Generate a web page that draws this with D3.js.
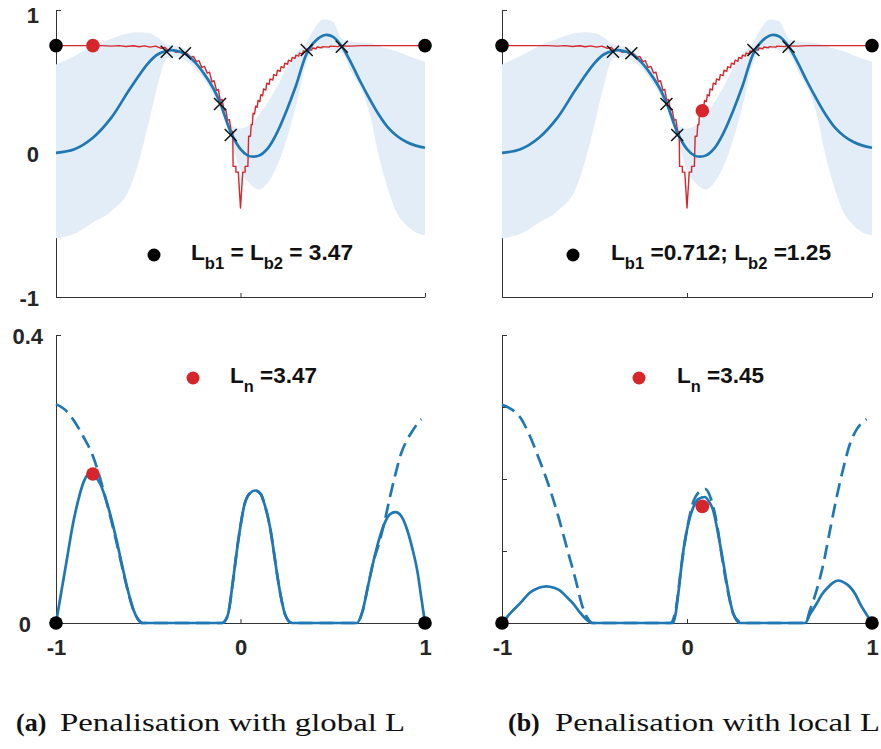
<!DOCTYPE html>
<html><head><meta charset="utf-8">
<script src="https://cdn.jsdelivr.net/npm/d3@7"></script>
<style>
html,body{margin:0;padding:0;background:#fff;}
svg{display:block;}
.tick text{font-family:"Liberation Sans",Arial,sans-serif;font-weight:bold;font-size:22px;fill:#262626;}
</style></head>
<body>
<svg id="c" width="881" height="749"></svg>
<script>
// ---------------- DATA ----------------
// GP posterior mean (top panels)
const meanX = [-1,-0.9,-0.8,-0.7,-0.6,-0.5,-0.45,-0.4,-0.37,-0.33,-0.3,-0.25,-0.2,-0.15,-0.11,-0.05,0,0.04,0.07,0.1,0.15,0.2,0.25,0.3,0.36,0.41,0.46,0.5,0.55,0.6,0.65,0.7,0.75,0.8,0.85,0.9,0.95,1];
const meanY = [0.005,0.03,0.11,0.25,0.45,0.63,0.69,0.715,0.72,0.71,0.695,0.64,0.56,0.46,0.35,0.14,0.03,-0.015,-0.022,-0.015,0.04,0.15,0.3,0.47,0.70,0.79,0.826,0.815,0.745,0.63,0.5,0.38,0.27,0.18,0.12,0.08,0.055,0.04];
// GP confidence band
const bandX = [-1,-0.9,-0.8,-0.7,-0.6,-0.55,-0.5,-0.45,-0.4,-0.35,-0.3,-0.25,-0.2,-0.15,-0.1,-0.05,0,0.05,0.1,0.15,0.2,0.25,0.3,0.35,0.4,0.45,0.5,0.55,0.6,0.65,0.7,0.75,0.8,0.85,0.9,0.95,1];
const bandUpper = [0.62,0.68,0.75,0.80,0.84,0.845,0.84,0.81,0.76,0.75,0.73,0.67,0.6,0.5,0.38,0.2,0.175,0.2,0.27,0.36,0.47,0.6,0.7,0.76,0.87,0.935,0.92,0.8,0.78,0.775,0.77,0.75,0.73,0.71,0.685,0.66,0.64];
const bandLower = [-0.59,-0.56,-0.48,-0.40,-0.24,-0.05,0.2,0.47,0.66,0.67,0.65,0.6,0.52,0.42,0.3,0.09,-0.12,-0.21,-0.25,-0.2,-0.08,0.1,0.33,0.6,0.72,0.73,0.72,0.7,0.57,0.46,0.28,-0.02,-0.25,-0.42,-0.5,-0.55,-0.57];
// true objective (red)
const trueFn = [[-1,0.752],[-0.75,0.752],[-0.7,0.748],[-0.66,0.752],[-0.62,0.746],[-0.58,0.751],[-0.55,0.744],[-0.52,0.75],[-0.49,0.741],[-0.46,0.748],[-0.43,0.733],[-0.41,0.74],[-0.39,0.715],[-0.37,0.722],[-0.35,0.705],[-0.33,0.712],[-0.31,0.69],[-0.29,0.697],[-0.27,0.67],[-0.255,0.677],[-0.24,0.64],[-0.225,0.647],[-0.21,0.6],[-0.195,0.607],[-0.18,0.56],[-0.168,0.567],[-0.155,0.5],[-0.143,0.507],[-0.13,0.44],[-0.12,0.447],[-0.11,0.37],[-0.1,0.377],[-0.09,0.3],[-0.08,0.307],[-0.07,0.23],[-0.06,0.237],[-0.05,0.15],[-0.042,0.155],[-0.04,-0.09],[-0.025,-0.09],[-0.025,-0.13],[-0.012,-0.13],[0,-0.38],[0.012,-0.13],[0.025,-0.13],[0.025,-0.09],[0.04,-0.09],[0.044,0.12],[0.054,0.12],[0.058,0.2],[0.064,0.2],[0.068,0.28],[0.076,0.275],[0.082,0.33],[0.09,0.322],[0.095,0.37],[0.105,0.362],[0.11,0.41],[0.12,0.402],[0.125,0.45],[0.137,0.442],[0.142,0.49],[0.155,0.482],[0.16,0.52],[0.175,0.512],[0.18,0.55],[0.195,0.542],[0.2,0.58],[0.215,0.572],[0.22,0.605],[0.235,0.597],[0.24,0.63],[0.255,0.622],[0.26,0.65],[0.275,0.642],[0.28,0.67],[0.295,0.662],[0.3,0.685],[0.315,0.679],[0.32,0.7],[0.335,0.694],[0.34,0.715],[0.36,0.709],[0.365,0.725],[0.385,0.72],[0.39,0.735],[0.41,0.73],[0.415,0.742],[0.44,0.737],[0.445,0.745],[0.48,0.741],[0.485,0.748],[0.53,0.745],[0.535,0.75],[0.6,0.748],[0.65,0.752],[1,0.752]];
// observations (crosses)
const obsX = [-0.400,-0.301,-0.111,-0.053,0.359,0.549];
const obsY = [0.709,0.698,0.345,0.129,0.721,0.744];
// boundary points and next evaluation
const boundX = [-1,1];
const boundTopY = 0.752;
const nextTopA = [-0.80,0.752];
const nextTopB = [0.083,0.298];
// penalised acquisition, global L (bottom-left)
const acqA = [[-1,0],[-0.97,0.045],[-0.94,0.09],[-0.91,0.135],[-0.88,0.17],[-0.85,0.196],[-0.82,0.207],[-0.79,0.204],[-0.76,0.193],[-0.73,0.172],[-0.70,0.145],[-0.67,0.113],[-0.64,0.078],[-0.61,0.045],[-0.58,0.018],[-0.555,0.005],[-0.53,0],[-0.1,0],[-0.07,0.01],[-0.04,0.06],[-0.02,0.1],[0,0.135],[0.02,0.163],[0.05,0.18],[0.08,0.184],[0.11,0.179],[0.13,0.165],[0.16,0.133],[0.18,0.1],[0.2,0.065],[0.22,0.035],[0.24,0.013],[0.26,0.003],[0.28,0],[0.63,0],[0.66,0.015],[0.69,0.05],[0.72,0.085],[0.75,0.115],[0.78,0.138],[0.81,0.151],[0.84,0.154],[0.87,0.149],[0.9,0.132],[0.93,0.105],[0.96,0.07],[0.98,0.035],[1,0]];
const acqADash = [[-1,0.304],[-0.95,0.296],[-0.9,0.28],[-0.85,0.258],[-0.8,0.232],[-0.76,0.2],[-0.73,0.172],[-0.70,0.142],[-0.67,0.11],[-0.64,0.076],[-0.61,0.044],[-0.58,0.018],[-0.555,0.005],[-0.53,0],[-0.1,0],[-0.07,0.01],[-0.04,0.06],[-0.02,0.1],[0,0.135],[0.02,0.163],[0.05,0.18],[0.08,0.184],[0.11,0.179],[0.13,0.165],[0.16,0.133],[0.18,0.1],[0.2,0.065],[0.22,0.035],[0.24,0.013],[0.26,0.003],[0.28,0],[0.63,0],[0.66,0.015],[0.69,0.05],[0.72,0.085],[0.75,0.11],[0.78,0.14],[0.81,0.175],[0.84,0.207],[0.87,0.235],[0.9,0.253],[0.93,0.266],[0.96,0.277],[0.98,0.283]];
// penalised acquisition, local L (bottom-right)
const acqB = [[-1,0],[-0.95,0.015],[-0.9,0.028],[-0.85,0.042],[-0.8,0.049],[-0.76,0.051],[-0.72,0.049],[-0.686,0.045],[-0.65,0.036],[-0.615,0.027],[-0.58,0.015],[-0.56,0.009],[-0.535,0.003],[-0.515,0],[-0.075,0],[-0.06,0.015],[-0.047,0.041],[-0.02,0.1],[0.016,0.147],[0.04,0.164],[0.061,0.172],[0.097,0.175],[0.12,0.168],[0.142,0.156],[0.16,0.135],[0.178,0.11],[0.2,0.078],[0.215,0.055],[0.235,0.028],[0.25,0.013],[0.27,0.003],[0.286,0],[0.638,0],[0.665,0.012],[0.701,0.027],[0.73,0.04],[0.764,0.05],[0.79,0.056],[0.818,0.059],[0.85,0.056],[0.881,0.05],[0.91,0.04],[0.935,0.027],[0.97,0.012],[1,0]];
const acqBDash = [[-1,0.303],[-0.95,0.297],[-0.9,0.285],[-0.85,0.26],[-0.8,0.228],[-0.75,0.193],[-0.7,0.152],[-0.65,0.105],[-0.6,0.058],[-0.57,0.027],[-0.54,0.008],[-0.51,0],[-0.09,0],[-0.06,0.02],[-0.03,0.08],[0,0.13],[0.03,0.165],[0.07,0.183],[0.1,0.186],[0.13,0.172],[0.16,0.14],[0.19,0.09],[0.22,0.045],[0.25,0.013],[0.28,0.002],[0.3,0],[0.64,0],[0.665,0.018],[0.7,0.045],[0.737,0.082],[0.77,0.125],[0.809,0.175],[0.845,0.215],[0.881,0.249],[0.92,0.27],[0.971,0.283]];
const nextBotA = [-0.80,0.207];
const nextBotB = [0.083,0.162];
// tick values and labels
const topYTicks = [-1,0,1];
const botYTicks = [0,0.1,0.2,0.3,0.4];
const botYLabels = {0:"0",0.4:"0.4"};
const xTicks = [-1,0,1];
const legendText = {
  topA: [["L",""],["b1","sub"],[" = L",""],["b2","sub"],[" = 3.47",""]],
  topB: [["L",""],["b1","sub"],[" =0.712; L",""],["b2","sub"],[" =1.25",""]],
  botA: [["L",""],["n","sub"],[" =3.47",""]],
  botB: [["L",""],["n","sub"],[" =3.45",""]]
};
const captions = [["(a)","Penalisation with global L"],["(b)","Penalisation with local L"]];

// ---------------- STYLE ----------------
const BLUE = "#1f77b4", RED = "#d7262b", BAND = "#e3edf7", AX = "#333";
const svg = d3.select("#c");

function axisStyle(g){
  g.select(".domain").attr("stroke",AX).attr("stroke-width",1);
  g.selectAll(".tick line").attr("stroke",AX).attr("stroke-width",1);
}

function panel(opt){
  const x = d3.scaleLinear().domain([-1,1]).range(opt.xr);
  const y = d3.scaleLinear().domain(opt.yd).range(opt.yr);
  const g = svg.append("g");
  const ya = d3.axisLeft(y).tickValues(opt.yTicks).tickSizeInner(-5).tickSizeOuter(0).tickPadding(opt.yPad)
    .tickFormat(opt.yFmt);
  const gy = g.append("g").attr("transform",`translate(${opt.xr[0]},0)`).call(ya);
  axisStyle(gy);
  const xa = d3.axisBottom(x).tickValues(xTicks).tickSizeInner(-4).tickSizeOuter(0).tickPadding(16)
    .tickFormat(opt.xFmt);
  const gx = g.append("g").attr("transform",`translate(0,${opt.yr[0]})`).call(xa);
  axisStyle(gx);
  return {x,y,g,gy,gx};
}

function legend(g, cx, cy, color, tx, parts, len){
  g.append("circle").attr("cx",cx).attr("cy",cy).attr("r",6.5).attr("fill",color);
  const t = g.append("text").attr("x",tx).attr("y",cy+5)
    .attr("font-family","'Liberation Sans',Arial,sans-serif").attr("font-weight","bold")
    .attr("font-size",22).attr("fill","#111");
  parts.forEach((p,i)=>{
    const s = t.append("tspan").text(p[0]);
    if(p[1]==="sub"){ s.attr("font-size",16).attr("dy",9); }
    else if(i>0 && parts[i-1][1]==="sub"){ s.attr("dy",-9); }
  });
  if(len) t.attr("textLength",len).attr("lengthAdjust","spacingAndGlyphs");
}

function topPanel(xr, labels, nextPt, legendCfg){
  const P = panel({xr, yr:[297,10], yd:[-1,1], yTicks:topYTicks, yPad:17,
    yFmt: labels ? (d=>d3.format("d")(d).replace("−","-")) : (()=>""), xFmt: ()=>""});
  const {x,y,g,gy} = P;
  gy.selectAll(".tick text").attr("dy", d=> d===1 ? "0.55em" : "0.38em");
  g.append("path").datum(bandX.map((v,i)=>[v,bandUpper[i],bandLower[i]]))
    .attr("fill",BAND)
    .attr("d", d3.area().x(d=>x(d[0])).y0(d=>y(d[2])).y1(d=>y(d[1])).curve(d3.curveMonotoneX));
  g.append("path").datum(trueFn).attr("fill","none").attr("stroke",RED).attr("stroke-width",1.4)
    .attr("stroke-linejoin","round")
    .attr("d", d3.line().x(d=>x(d[0])).y(d=>y(d[1])));
  g.append("path").datum(meanX.map((v,i)=>[v,meanY[i]])).attr("fill","none").attr("stroke",BLUE)
    .attr("stroke-width",2.7)
    .attr("d", d3.line().x(d=>x(d[0])).y(d=>y(d[1])).curve(d3.curveCatmullRom.alpha(0.5)));
  const s = 6;
  obsX.forEach((v,i)=>{
    const cx = x(v), cy = y(obsY[i]);
    g.append("path").attr("d",`M${cx-s},${cy-s}L${cx+s},${cy+s}M${cx-s},${cy+s}L${cx+s},${cy-s}`)
      .attr("stroke","#111").attr("stroke-width",1.5).attr("fill","none");
  });
  boundX.forEach(v=>g.append("circle").attr("cx",x(v)).attr("cy",y(boundTopY)).attr("r",6.8).attr("fill","#000"));
  g.append("circle").attr("cx",x(nextPt[0])).attr("cy",y(nextPt[1])).attr("r",6.8).attr("fill",RED);
  legend(g, legendCfg.cx, 255, "#000", legendCfg.tx, legendCfg.parts, legendCfg.len);
}

function botPanel(xr, labels, solid, dashed, nextPt, legendCfg){
  const P = panel({xr, yr:[623,335], yd:[0,0.4], yTicks: labels ? [0,0.4] : botYTicks, yPad:13,
    yFmt: labels ? (d=>botYLabels[d]||"") : (()=>""), xFmt: d=>d3.format("d")(d).replace("−","-")});
  const {x,y,g,gy} = P;
  gy.selectAll(".tick text").attr("dy","0.38em");
  if(labels){
    gy.selectAll(".tick text").attr("dx", d=> d===0 ? -12 : 0);
  }
  g.append("path").datum(dashed).attr("fill","none").attr("stroke",BLUE).attr("stroke-width",2.7)
    .attr("stroke-dasharray","14,7")
    .attr("d", d3.line().x(d=>x(d[0])).y(d=>y(d[1])).curve(d3.curveMonotoneX));
  g.append("path").datum(solid).attr("fill","none").attr("stroke",BLUE).attr("stroke-width",2.7)
    .attr("d", d3.line().x(d=>x(d[0])).y(d=>y(d[1])).curve(d3.curveMonotoneX));
  boundX.forEach(v=>g.append("circle").attr("cx",x(v)).attr("cy",y(0)).attr("r",6.8).attr("fill","#000"));
  g.append("circle").attr("cx",x(nextPt[0])).attr("cy",y(nextPt[1])).attr("r",6.8).attr("fill",RED);
  legend(g, legendCfg.cx, 378, RED, legendCfg.tx, legendCfg.parts, legendCfg.len);
}

topPanel([56,425], true, nextTopA, {cx:154, tx:191, parts:legendText.topA, len:162});
topPanel([502,872], false, nextTopB, {cx:573, tx:611, parts:legendText.topB, len:220});
botPanel([56,425], true, acqA, acqADash, nextBotA, {cx:193, tx:230, parts:legendText.botA, len:87});
botPanel([502,872], false, acqB, acqBDash, nextBotB, {cx:639, tx:677, parts:legendText.botB, len:87});

// captions
const capX = [[16,60,405],[508,555,880]];
captions.forEach((c,i)=>{
  svg.append("text").attr("x",capX[i][0]).attr("y",731).text(c[0])
    .attr("font-family","'Liberation Serif','Times New Roman',serif").attr("font-weight","bold")
    .attr("font-size",26).attr("fill","#111");
  svg.append("text").attr("x",capX[i][1]).attr("y",731).text(c[1])
    .attr("font-family","'Liberation Serif','Times New Roman',serif")
    .attr("font-size",26).attr("fill","#111")
    .attr("textLength",capX[i][2]-capX[i][1]).attr("lengthAdjust","spacingAndGlyphs");
});
</script>
</body></html>
